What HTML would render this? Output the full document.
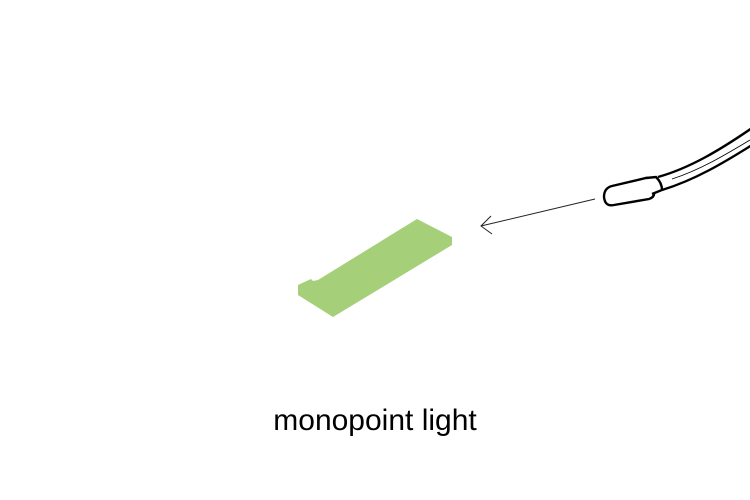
<!DOCTYPE html>
<html><head><style>
html,body{margin:0;padding:0;background:#fff;width:750px;height:500px;overflow:hidden}
.t{position:absolute;left:0;width:750px;top:404px;text-align:center;font-family:"Liberation Sans",sans-serif;font-size:30px;color:#000}
</style></head><body>
<svg width="750" height="500" style="position:absolute;left:0;top:0">
<polygon points="417,219 452,237 452,245 333,317 298,295 298,285 311,279 313,281 318,280" fill="#a5cf78"/>
<line x1="595" y1="199" x2="481" y2="226" stroke="#222" stroke-width="1"/>
<polyline points="491,216 481,226 492,234" fill="none" stroke="#222" stroke-width="1"/>
<path d="M658,177 C690,168 720,150 752,128" fill="none" stroke="#000" stroke-width="2.4"/>
<path d="M662,190 C695,180 725,162 752,145" fill="none" stroke="#000" stroke-width="2.4"/>
<path d="M672,179 C700,170 725,155 750,140" fill="none" stroke="#000" stroke-width="0.8"/>
<path d="M612,186 L646,178 Q652,178 652,186 L654,192 Q655,197 649,199 L614,205 Q605,207 604,197 Q604,188 612,186 Z" fill="#fff" stroke="#000" stroke-width="2.4"/>
<path d="M646,178 L656,177 Q662,183 662,190 L652,194" fill="#fff" stroke="#000" stroke-width="2.4"/>
</svg>
<div class="t">monopoint light</div>
</body></html>
